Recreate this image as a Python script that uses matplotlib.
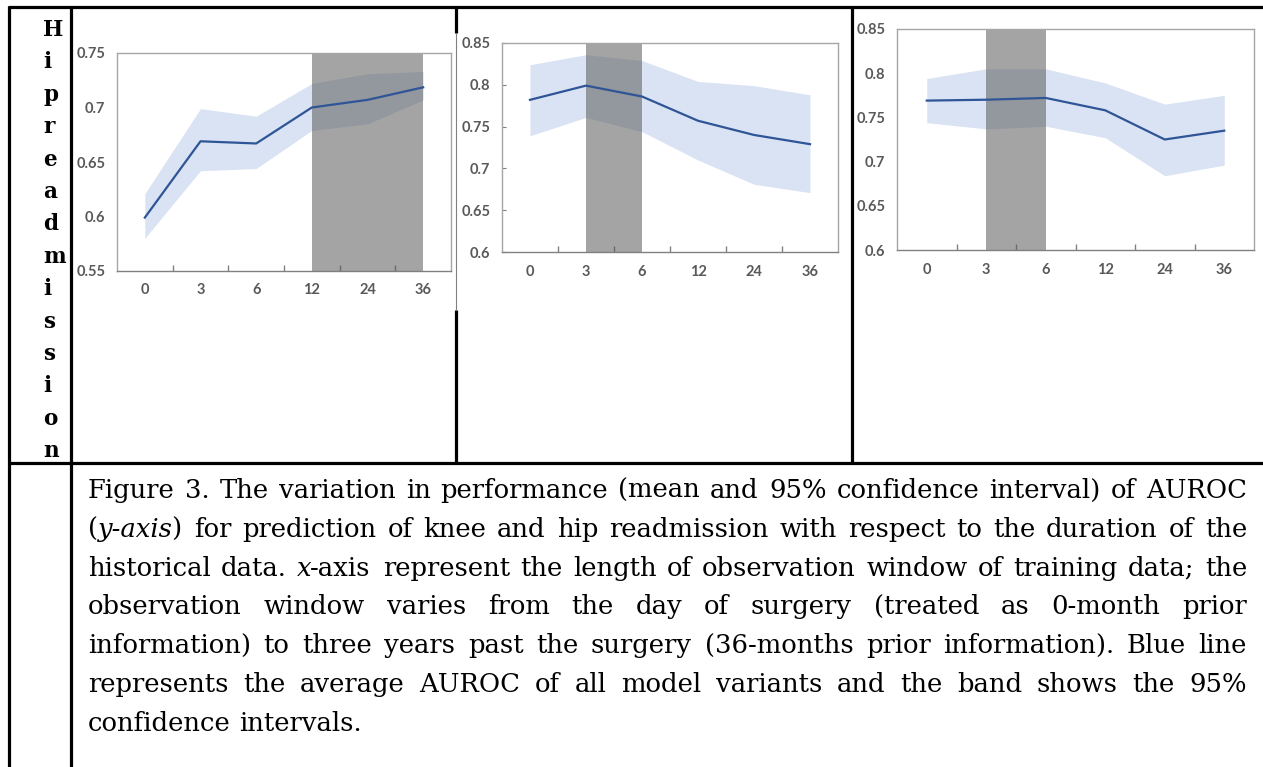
import numpy as np
import matplotlib.pyplot as plt
from matplotlib.lines import Line2D

W, H = 1263, 767

months = ['0', '3', '6', '12', '24', '36']

# panel 1 (left)
p1_mean = [0.599, 0.669, 0.667, 0.700, 0.707, 0.7185]
p1_upper = [0.621, 0.699, 0.692, 0.722, 0.731, 0.733]
p1_lower = [0.580, 0.642, 0.644, 0.679, 0.685, 0.707]
p1_shade = ('12', '36')
p1_yticks = [0.55, 0.6, 0.65, 0.7, 0.75]

# panel 2 (middle)
p2_mean = [0.782, 0.799, 0.786, 0.757, 0.740, 0.729]
p2_upper = [0.824, 0.836, 0.829, 0.804, 0.799, 0.788]
p2_lower = [0.739, 0.761, 0.744, 0.710, 0.681, 0.671]
p2_shade = ('3', '6')

# panel 3 (right)
p3_mean = [0.769, 0.770, 0.772, 0.758, 0.725, 0.735]
p3_upper = [0.794, 0.805, 0.805, 0.789, 0.765, 0.775]
p3_lower = [0.744, 0.737, 0.740, 0.727, 0.684, 0.696]
p3_shade = ('3', '6')
p23_yticks = [0.6, 0.65, 0.7, 0.75, 0.8, 0.85]

row_label = 'Hipreadmission'

# _..._ marks italic
caption_lines = [
    'Figure 3. The variation in performance (mean and 95% confidence interval) of AUROC',
    '(_y-axis_) for prediction of knee and hip readmission with respect to the duration of the',
    'historical data. _x_-axis represent the length of observation window of training data; the',
    'observation window varies from the day of surgery (treated as 0-month prior',
    'information) to three years past the surgery (36-months prior information). Blue line',
    'represents the average AUROC of all model variants and the band shows the 95%',
    'confidence intervals.',
]

BAND = '#dae3f3'
LINE = '#2f5597'
TICK_COLOR = '#595959'


def fx(px):
    return px / W


def fy(py):
    return 1 - py / H


fig = plt.figure(figsize=(W / 100, H / 100), dpi=100)


def draw_panel(box, mean, lower, upper, shade, yticks, ytick_marks=False):
    x0, y0, x1, y1 = box
    ax = fig.add_axes([fx(x0), fy(y1), fx(x1) - fx(x0), fy(y0) - fy(y1)])
    x = np.arange(len(months))
    ax.fill_between(x, lower, upper, color=BAND, lw=0, zorder=1)
    i0, i1 = months.index(shade[0]), months.index(shade[1])
    ax.axvspan(x[i0], x[i1], color='#595959', alpha=0.55, lw=0, zorder=2)
    ax.plot(x, mean, color=LINE, lw=1.6, zorder=3)
    ax.set_xlim(-0.5, len(months) - 0.5)
    ax.set_ylim(yticks[0], yticks[-1])
    ax.set_xticks(x, months)
    ax.set_xticks(x[:-1] + 0.5, minor=True)
    ax.set_yticks(yticks, [f'{v:g}' for v in yticks])
    ax.tick_params(axis='x', which='major', length=0, pad=9)
    ax.tick_params(axis='x', which='minor', direction='in', length=4,
                   width=1, color='#808080')
    ax.tick_params(axis='y', direction='in', length=3 if ytick_marks else 0,
                   color='#808080', pad=8.5)
    for lbl in ax.get_xticklabels() + ax.get_yticklabels():
        lbl.set_family('Lato')
        lbl.set_fontweight('bold')
        lbl.set_fontsize(10.5)
        lbl.set_color(TICK_COLOR)
    for s in ax.spines.values():
        s.set_color('#a6a6a6')
        s.set_linewidth(1)
    ax.spines['bottom'].set_color('#808080')
    return ax


draw_panel((117, 53, 451, 271), p1_mean, p1_lower, p1_upper, p1_shade, p1_yticks)
draw_panel((502, 43, 838, 252), p2_mean, p2_lower, p2_upper, p2_shade, p23_yticks,
           ytick_marks=True)
draw_panel((897, 29, 1254, 250), p3_mean, p3_lower, p3_upper, p3_shade, p23_yticks)


# table rules
def rule(xa, ya, xb, yb, lw=2.3, color='black'):
    fig.add_artist(Line2D([fx(xa), fx(xb)], [fy(ya), fy(yb)], lw=lw,
                          color=color, solid_capstyle='butt'))


rule(8, 7, W, 7)
rule(9, 6, 9, H)
rule(71, 6, 71, H)
rule(8, 463, W, 463)
rule(852, 6, 852, 464)
rule(455.5, 6, 455.5, 33)
rule(455.5, 310, 455.5, 464)
rule(455.5, 33, 455.5, 310, lw=0.8, color='#808080')

# vertical row label, one letter per line
for i, ch in enumerate(row_label):
    fig.text(fx(43), fy(36 + i * 32.4), ch, ha='left', va='baseline',
             family='DejaVu Serif', fontweight='bold', fontsize=15.5)

# caption, justified like the source document
renderer = fig.canvas.get_renderer()
CAP_FONT = 'DejaVu Serif'


def split_word(word):
    parts = word.split('_')
    return [(p, i % 2 == 1) for i, p in enumerate(parts) if p]


def seg_width(text, italic, size):
    t = fig.text(0, 0, text, family=CAP_FONT, fontsize=size,
                 style='italic' if italic else 'normal')
    w = t.get_window_extent(renderer).width
    t.remove()
    return w


def word_width(word, size):
    return sum(seg_width(s, it, size) for s, it in split_word(word))


cap_left, cap_right = 88, 1247
cap_width = cap_right - cap_left
base = 10
space_w = seg_width('a a', False, base) - 2 * seg_width('a', False, base)
natural = []
for line in caption_lines[:-1]:
    words = line.split(' ')
    natural.append(sum(word_width(w, base) for w in words)
                   + space_w * (len(words) - 1))
cap_size = base * cap_width * 0.985 / max(natural)

for li, line in enumerate(caption_lines):
    words = line.split(' ')
    widths = [word_width(w, cap_size) for w in words]
    if li < len(caption_lines) - 1:
        gap = (cap_width - sum(widths)) / (len(words) - 1)
    else:
        gap = space_w * cap_size / base
    y = 498 + li * 38.8
    xpos = cap_left
    for w, ww in zip(words, widths):
        xs = xpos
        for seg, italic in split_word(w):
            fig.text(fx(xs), fy(y), seg, ha='left', va='baseline',
                     family=CAP_FONT, fontsize=cap_size,
                     style='italic' if italic else 'normal')
            xs += seg_width(seg, italic, cap_size) - (2 if italic else 0)
        xpos += ww + gap

fig.savefig('out.png', dpi=100)
